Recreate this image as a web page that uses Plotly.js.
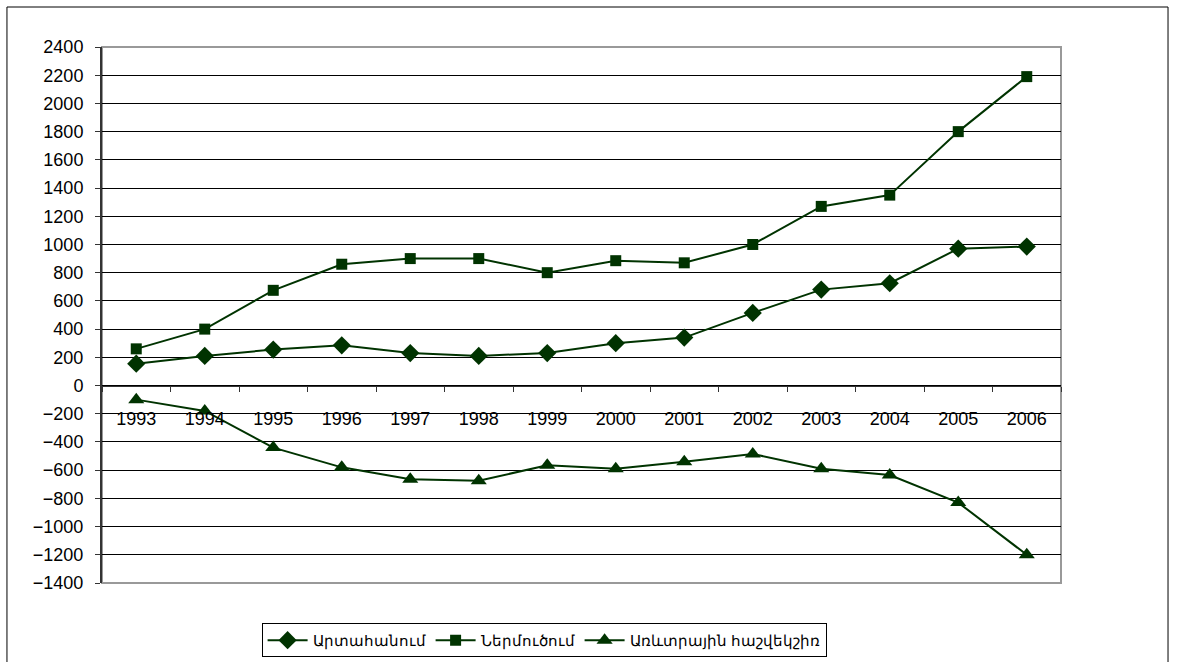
<!DOCTYPE html>
<html>
<head>
<meta charset="utf-8">
<script src="https://cdn.plot.ly/plotly-3.0.1.min.js"></script>
<style>html,body{margin:0;padding:0;background:#fff;}#chart{width:1177px;height:662px;}</style>
</head>
<body>
<div id="chart"></div>
<script>
const years = ['1993','1994','1995','1996','1997','1998','1999','2000','2001','2002','2003','2004','2005','2006'];
const exportsVals = [155, 210, 255, 285, 230, 210, 230, 300, 340, 515, 680, 725, 970, 985];
const importsVals = [260, 400, 675, 860, 900, 900, 800, 885, 870, 1000, 1270, 1350, 1800, 2190];
const balanceVals = [-100, -180, -440, -580, -665, -675, -565, -590, -540, -485, -590, -635, -830, -1200];
const seriesNames = ['Արտահանում', 'Ներմուծում', 'Առևտրային հաշվեկշիռ'];

const green = '#003300';
const fontFam = '"Liberation Sans", Arial, sans-serif';
const yMin = -1400, yMax = 2400;

function tr(y, name, symbol, size) {
  return {
    x: years, y: y, name: name, type: 'scatter', mode: 'lines+markers',
    line: {color: green, width: 2},
    marker: {symbol: symbol, size: size, color: green, line: {color: green, width: 0}},
    cliponaxis: false
  };
}

const data = [
  tr(exportsVals, seriesNames[0], 'diamond', 14),
  tr(importsVals, seriesNames[1], 'square', 11),
  tr(balanceVals, seriesNames[2], 'triangle-up', 14)
];

const layout = {
  width: 1177, height: 662,
  margin: {l: 102, r: 116, t: 47, b: 79, autoexpand: false},
  paper_bgcolor: '#fff', plot_bgcolor: '#fff',
  font: {family: fontFam, size: 18, color: '#000'},
  showlegend: true,
  legend: {
    orientation: 'h', x: 0.461, xanchor: 'center', y: -0.075, yanchor: 'top',
    bordercolor: '#000', borderwidth: 1, bgcolor: '#fff',
    font: {family: fontFam, size: 14.5, color: '#000'},
    itemwidth: 40, tracegroupgap: 0
  },
  xaxis: {
    type: 'category', anchor: 'free', position: (0 - yMin) / (yMax - yMin),
    tickson: 'boundaries', ticks: 'outside', ticklen: 5, tickcolor: '#333', tickwidth: 1,
    showline: true, linecolor: '#333', linewidth: 1,
    showgrid: false, zeroline: false, automargin: false,
    ticklabelstandoff: 17,
    tickfont: {family: fontFam, size: 18, color: '#000'},
    range: [-0.5, 13.5], fixedrange: true
  },
  yaxis: {
    range: [yMin, yMax], dtick: 200, tick0: 0, automargin: false,
    ticks: 'outside', ticklen: 5, tickcolor: '#333', tickwidth: 1,
    showline: true, linecolor: '#333', linewidth: 2,
    showgrid: true, gridcolor: '#000', gridwidth: 1,
    zeroline: false,
    ticklabelstandoff: 8,
    tickfont: {family: fontFam, size: 18, color: '#000'}
  },
  shapes: [
    {type: 'rect', xref: 'paper', yref: 'paper', x0: 0, x1: 1, y0: 0, y1: 1,
     line: {color: '#999', width: 2}, layer: 'below'},
    {type: 'rect', xref: 'paper', yref: 'paper', x0: -0.0991, x1: 1.1116, y0: -0.3, y1: 1.0746,
     line: {color: '#000', width: 1}, layer: 'below'}
  ]
};

Plotly.newPlot('chart', data, layout, {displayModeBar: false, staticPlot: true});
</script>
</body>
</html>
